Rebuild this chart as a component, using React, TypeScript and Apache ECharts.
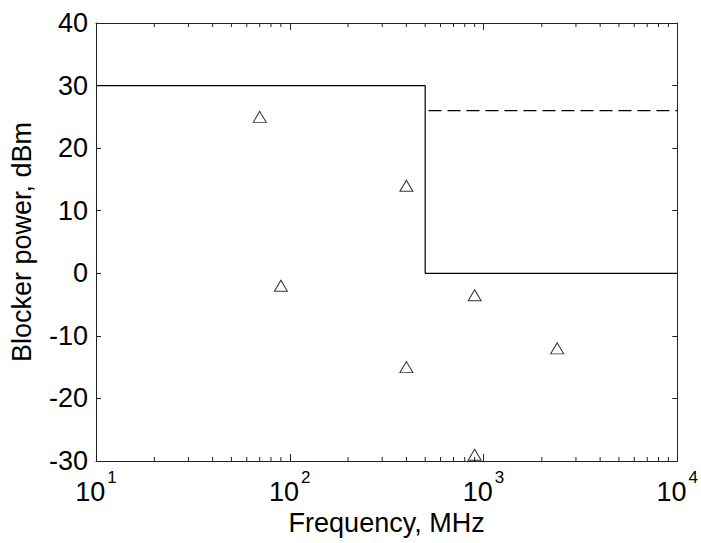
import React, { useEffect, useRef } from "react";
import * as echarts from "echarts";

const stepLimit: [number, number][] = [
  [10, 30],
  [500, 30],
  [500, 0],
  [10000, 0],
];
const dashedLimit: [number, number][] = [
  [520, 26],
  [10000, 26],
];
const blockerFreq = [70, 90, 400, 400, 900, 900, 2400];
const blockerPower = [25, -2, 14, -15, -3.5, -29, -12];
const minorTickValues = [
  20, 30, 40, 50, 60, 70, 80, 90,
  200, 300, 400, 500, 600, 700, 800, 900,
  2000, 3000, 4000, 5000, 6000, 7000, 8000, 9000,
];
const yTicks = { min: -30, max: 40, interval: 10 };
const xRange = { min: 10, max: 10000 };

const FONT = "Liberation Sans, Arial, sans-serif";

export default function App() {
  const ref = useRef<HTMLDivElement>(null);
  useEffect(() => {
    if (!ref.current) return;
    const chart = echarts.init(ref.current, null, { renderer: "svg" });
    const axisLine = { show: true, onZero: false, lineStyle: { color: "#222", width: 1 } };
    const xBase = {
      type: "log" as const,
      logBase: 10,
      min: xRange.min,
      max: xRange.max,
      splitLine: { show: false },
      axisLine,
    };
    const yBase = {
      type: "value" as const,
      min: yTicks.min,
      max: yTicks.max,
      interval: yTicks.interval,
      splitLine: { show: false },
      axisLine,
    };
    chart.setOption({
      animation: false,
      backgroundColor: "#fff",
      grid: { left: 95, top: 23, right: 21, bottom: 82, containLabel: false },
      xAxis: [
        {
          ...xBase,
          position: "bottom",
          name: "Frequency, MHz",
          nameLocation: "middle",
          nameGap: 47,
          nameTextStyle: { fontFamily: FONT, fontSize: 27, color: "#000" },
          axisTick: { show: true, inside: true, length: 7, lineStyle: { color: "#222" } },
          axisLabel: {
            margin: 8,
            formatter: (v: number) => `{b|10}{s|${Math.round(Math.log10(v))}}`,
            rich: {
              b: { fontFamily: FONT, fontSize: 27, color: "#000", verticalAlign: "bottom", lineHeight: 36 },
              s: { fontFamily: FONT, fontSize: 17, color: "#000", verticalAlign: "top", lineHeight: 36, padding: [0, 0, 0, 2] },
            },
          },
        },
        {
          ...xBase,
          position: "top",
          axisTick: { show: true, inside: true, length: 7, lineStyle: { color: "#222" } },
          axisLabel: { show: false },
        },
      ],
      yAxis: [
        {
          ...yBase,
          position: "left",
          name: "Blocker power, dBm",
          nameLocation: "middle",
          nameGap: 61,
          nameTextStyle: { fontFamily: FONT, fontSize: 27, color: "#000" },
          axisTick: { show: true, inside: true, length: 5, lineStyle: { color: "#222" } },
          axisLabel: { fontFamily: FONT, fontSize: 27, color: "#000", margin: 8 },
        },
        {
          ...yBase,
          position: "right",
          axisTick: { show: true, inside: true, length: 5, lineStyle: { color: "#222" } },
          axisLabel: { show: false },
        },
      ],
      series: [
        {
          type: "line",
          data: stepLimit,
          showSymbol: false,
          symbol: "none",
          lineStyle: { color: "#000", width: 1.2 },
          silent: true,
        },
        {
          type: "line",
          data: dashedLimit,
          showSymbol: false,
          symbol: "none",
          lineStyle: { color: "#000", width: 1.2, type: [13, 6] },
          silent: true,
        },
        {
          type: "scatter",
          data: blockerFreq.map((f, i) => [f, blockerPower[i]]),
          symbol: "triangle",
          symbolSize: [13, 11],
          itemStyle: { color: "rgba(255,255,255,0)", borderColor: "#000", borderWidth: 1 },
          silent: true,
        },
        {
          type: "custom",
          data: minorTickValues.map((v) => [v, 0]),
          encode: { x: 0, y: 1 },
          silent: true,
          clip: false,
          renderItem: (params: any, api: any) => {
            const x = api.coord([api.value(0), 0])[0];
            const cs = params.coordSys;
            const top = cs.y;
            const bottom = cs.y + cs.height;
            const style = { stroke: "#222", lineWidth: 1 };
            return {
              type: "group",
              children: [
                { type: "line", shape: { x1: x, y1: top, x2: x, y2: top + 4 }, style },
                { type: "line", shape: { x1: x, y1: bottom, x2: x, y2: bottom - 4 }, style },
              ],
            };
          },
        },
      ],
    });
    return () => chart.dispose();
  }, []);
  return <div ref={ref} style={{ position: "absolute", left: 0, top: 0, width: 701, height: 543 }} />;
}
